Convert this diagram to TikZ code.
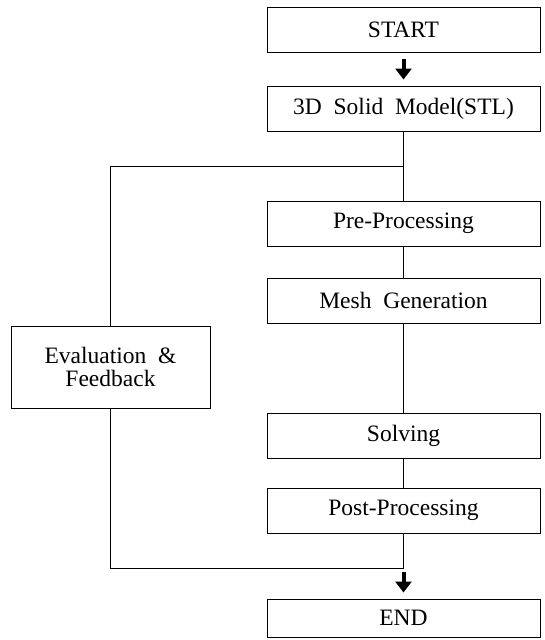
\documentclass[tikz,border=0pt]{standalone}
\usepackage{fontspec}
\setmainfont{Liberation Serif}
\usetikzlibrary{arrows.meta}
\begin{document}
\begin{tikzpicture}[x=1pt,y=-1pt,
  box/.style={draw, line width=1pt, minimum width=273pt, minimum height=45pt,
    inner sep=0pt, align=center, font=\fontsize{23.5}{23}\selectfont},
  conn/.style={line width=0.8pt},
  fat/.style={line width=4pt, -{Triangle[width=16pt,length=11pt]}}]
\useasboundingbox (0,0) rectangle (545,640);
\node[box] (start) at (403.5,29.5) {START};
\node[box] (model) at (403.5,108.5) {3D\ \ Solid\ \ Model(STL)};
\node[box] (pre)   at (403.5,223.5) {Pre-Processing};
\node[box] (mesh)  at (403.5,300.5) {Mesh\ \ Generation};
\node[box] (solve) at (403.5,435.5) {Solving};
\node[box] (post)  at (403.5,510.5) {Post-Processing};
\node[box, minimum height=38pt] (end) at (403.5,618) {END};
\node[box, minimum width=199pt, minimum height=82pt] (eval) at (110.5,367) {Evaluation\ \ \&\\Feedback};
\coordinate (j1) at (403.5,166);
\coordinate (j2) at (403.5,568);
\draw[fat, shorten <=6pt, shorten >=6pt] (start) -- (model);
\draw[conn] (model) -- (pre);
\draw[conn] (pre) -- (mesh);
\draw[conn] (mesh) -- (solve);
\draw[conn] (solve) -- (post);
\draw[conn] (j1) -| (eval.north);
\draw[conn] (eval.south) |- (j2) -- (post.south);
\draw[fat, shorten <=4pt, shorten >=6pt] (j2) -- (end);
\end{tikzpicture}
\end{document}
